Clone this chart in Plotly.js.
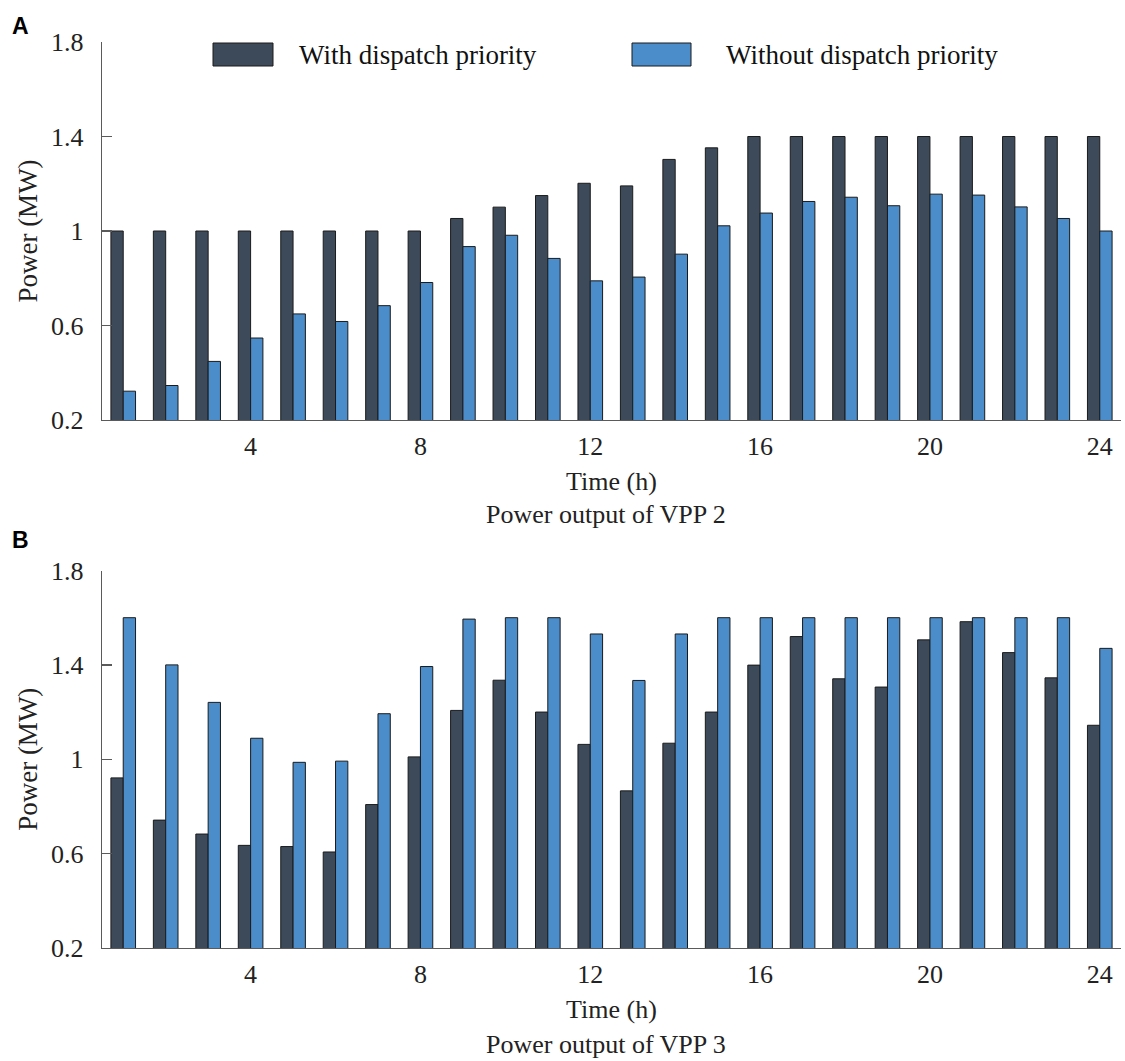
<!DOCTYPE html>
<html>
<head>
<meta charset="utf-8">
<script src="https://cdn.plot.ly/plotly-3.0.1.min.js"></script>
<style>html,body{margin:0;padding:0;background:#fff;}#chart{width:1125px;height:1061px;}</style>
</head>
<body>
<div id="chart"></div>
<script>
const hours = [1,2,3,4,5,6,7,8,9,10,11,12,13,14,15,16,17,18,19,20,21,22,23,24];
const seriesNames = ['With dispatch priority', 'Without dispatch priority'];
const vpp2With = [1.0,1.0,1.0,1.0,1.0,1.0,1.0,1.0,1.053,1.101,1.150,1.202,1.191,1.303,1.352,1.4,1.4,1.4,1.4,1.4,1.4,1.4,1.4,1.4];
const vpp2Without = [0.322,0.346,0.448,0.547,0.649,0.617,0.684,0.782,0.934,0.982,0.884,0.789,0.805,0.902,1.022,1.076,1.125,1.143,1.107,1.156,1.152,1.102,1.053,1.0];
const vpp3With = [0.921,0.742,0.683,0.635,0.630,0.607,0.808,1.010,1.207,1.335,1.200,1.063,0.866,1.068,1.200,1.399,1.520,1.341,1.306,1.506,1.583,1.452,1.345,1.144];
const vpp3Without = [1.6,1.4,1.241,1.089,0.987,0.992,1.193,1.393,1.594,1.6,1.6,1.531,1.334,1.531,1.6,1.6,1.6,1.6,1.6,1.6,1.6,1.6,1.6,1.47];
const xTicks = [4,8,12,16,20,24];
const yTicks = [0.2,0.6,1,1.4,1.8];
const yTickText = ['0.2','0.6','1','1.4','1.8'];
const panelCaptions = ['Power output of VPP 2', 'Power output of VPP 3'];
const panelLetters = ['A', 'B'];

const darkColor = '#3D4A5A';
const blueColor = '#4A8DCA';
const edge = '#1b1b1b';
const serif = 'Liberation Serif, Times New Roman, serif';

function bar(y, name, color, xa, ya) {
  return {type:'bar', x:hours, y:y, name:name, xaxis:xa, yaxis:ya,
    marker:{color:color, line:{color:edge, width:1}}, showlegend:false, hoverinfo:'x+y'};
}
const data = [
  bar(vpp2With, seriesNames[0], darkColor, 'x', 'y'),
  bar(vpp2Without, seriesNames[1], blueColor, 'x', 'y'),
  bar(vpp3With, seriesNames[0], darkColor, 'x2', 'y2'),
  bar(vpp3Without, seriesNames[1], blueColor, 'x2', 'y2')
];

const M = {l:102, r:4, t:42, b:113};
const H = 1061 - M.t - M.b;
const W = 1125 - M.l - M.r;
function py(p){ return (1061 - M.b - p) / H; }
function px(p){ return (p - M.l) / W; }

function xaxisDef(anchor){
  return {anchor:anchor, range:[0.5,24.5], tickvals:xTicks, ticktext:xTicks.map(String),
    ticks:'', showline:true, linecolor:'#5a5a5a', linewidth:1.3, showgrid:false, zeroline:false,
    tickfont:{family:serif, size:26, color:'#222'}, ticklabelstandoff:2,
    title:{text:'Time (h)', font:{family:serif, size:26, color:'#222'}, standoff:12}, automargin:false};
}
function yaxisDef(anchor, domain){
  return {anchor:anchor, domain:domain, range:[0.2,1.8], tickvals:yTicks, ticktext:yTickText,
    ticks:'inside', ticklen:10, tickcolor:'#5a5a5a', tickwidth:1.3,
    showline:true, linecolor:'#5a5a5a', linewidth:1.3, showgrid:false, zeroline:false,
    tickfont:{family:serif, size:26, color:'#222'}, ticklabelstandoff:12,
    title:{text:'Power (MW)', font:{family:serif, size:27, color:'#222'}, standoff:5}, automargin:false};
}

const layout = {
  width:1125, height:1061, margin:M, paper_bgcolor:'#fff', plot_bgcolor:'#fff',
  barmode:'group', bargap:0.42, bargroupgap:0, showlegend:false,
  xaxis: xaxisDef('y'), yaxis: yaxisDef('x', [py(420), 1]),
  xaxis2: xaxisDef('y2'), yaxis2: yaxisDef('x2', [0, py(570.5)]),
  shapes:[
    {type:'rect', xref:'paper', yref:'paper', x0:px(213), x1:px(273), y0:py(66), y1:py(43),
      fillcolor:darkColor, line:{color:edge, width:1}},
    {type:'rect', xref:'paper', yref:'paper', x0:px(632), x1:px(691), y0:py(66), y1:py(43),
      fillcolor:blueColor, line:{color:edge, width:1}}
  ],
  annotations:[
    {xref:'paper', yref:'paper', x:px(297), y:py(55), xanchor:'left', yanchor:'middle', showarrow:false,
      text:seriesNames[0], font:{family:serif, size:27, color:'#111'}},
    {xref:'paper', yref:'paper', x:px(724), y:py(55), xanchor:'left', yanchor:'middle', showarrow:false,
      text:seriesNames[1], font:{family:serif, size:27, color:'#111'}},
    {xref:'paper', yref:'paper', x:px(606), y:py(514), xanchor:'center', yanchor:'middle', showarrow:false,
      text:panelCaptions[0], font:{family:serif, size:26, color:'#222'}},
    {xref:'paper', yref:'paper', x:px(606), y:py(1044), xanchor:'center', yanchor:'middle', showarrow:false,
      text:panelCaptions[1], font:{family:serif, size:26, color:'#222'}},
    {xref:'paper', yref:'paper', x:px(10), y:py(26), xanchor:'left', yanchor:'middle', showarrow:false,
      text:'<b>'+panelLetters[0]+'</b>', font:{family:'Liberation Sans, Arial, sans-serif', size:23, color:'#000'}},
    {xref:'paper', yref:'paper', x:px(10), y:py(540), xanchor:'left', yanchor:'middle', showarrow:false,
      text:'<b>'+panelLetters[1]+'</b>', font:{family:'Liberation Sans, Arial, sans-serif', size:23, color:'#000'}}
  ]
};

Plotly.newPlot('chart', data, layout, {staticPlot:true, displayModeBar:false});
</script>
</body>
</html>
